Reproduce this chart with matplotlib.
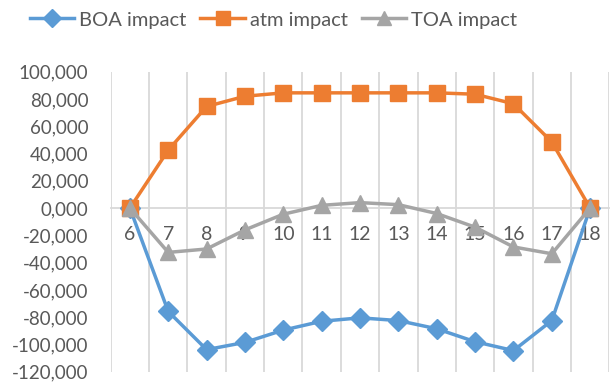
import matplotlib
matplotlib.use("Agg")
import matplotlib.pyplot as plt
from matplotlib.ticker import FuncFormatter, FixedLocator

categories = ["6", "7", "8", "9", "10", "11", "12", "13", "14", "15", "16", "17", "18"]
boa = [0, -75.8, -103.8, -98.5, -89.5, -83.0, -80.5, -82.5, -88.5, -98.0, -104.5, -82.5, 0]
atm = [0, 42.5, 74.5, 82.0, 84.5, 84.5, 84.5, 84.5, 84.5, 83.5, 76.5, 48.5, 0]
toa = [0, -32.5, -30.0, -16.0, -4.5, 2.0, 4.0, 2.5, -4.0, -14.0, -28.5, -33.5, 0]
y_ticks = [100, 80, 60, 40, 20, 0, -20, -40, -60, -80, -100, -120]

plt.rcParams['font.family'] = ['Lato', 'DejaVu Sans']
txt = '#595959'
grid = '#D9D9D9'

fig = plt.figure(figsize=(6.13, 3.87), dpi=100)
ax = fig.add_axes([0.1806, 0.0395, 0.8134, 0.7752])

x = list(range(len(categories)))
l1, = ax.plot(x, boa, color='#5B9BD5', lw=2.5, marker='D', ms=10.5, label='BOA impact', zorder=3)
l2, = ax.plot(x, atm, color='#ED7D31', lw=2.5, marker='s', ms=12, label='atm impact', zorder=4)
l3, = ax.plot(x, toa, color='#A5A5A5', lw=2.5, marker='^', ms=12, label='TOA impact', zorder=5)

ax.set_xlim(-0.5, len(categories) - 0.5)
ax.set_ylim(-120, 100)
ax.set_xticks(x)
ax.set_xticklabels(categories)
ax.xaxis.set_minor_locator(FixedLocator([i - 0.5 for i in range(len(categories) + 1)]))
ax.grid(True, which='minor', axis='x', color=grid, lw=1.3)
ax.set_yticks(y_ticks)
ax.yaxis.set_major_formatter(FuncFormatter(lambda v, p: f"{v:.3f}".replace('.', ',')))

for s in ['top', 'right', 'left']:
    ax.spines[s].set_visible(False)
ax.spines['bottom'].set_position(('data', 0))
ax.spines['bottom'].set_color(grid)
ax.spines['bottom'].set_linewidth(1.3)
ax.spines['bottom'].set_zorder(1)

ax.tick_params(axis='x', which='both', length=0, pad=13, labelsize=14, labelcolor=txt)
ax.tick_params(axis='y', length=0, pad=16, labelsize=13.5, labelcolor=txt)

fig.legend(handles=[l1, l2, l3], loc='center', bbox_to_anchor=(0.446, 1 - 20 / 387), ncol=3,
           frameon=False, fontsize=14.5, labelcolor=txt, handlelength=2.2, handletextpad=0.25,
           columnspacing=0.7, borderpad=0, markerscale=0.85)

fig.savefig('out.png', dpi=100)
